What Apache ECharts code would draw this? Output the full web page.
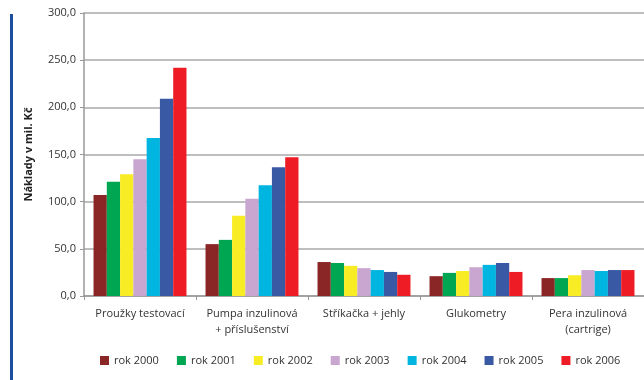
<!DOCTYPE html>
<html>
<head>
<meta charset="utf-8">
<script src="https://cdn.jsdelivr.net/npm/echarts@6/dist/echarts.min.js"></script>
<style>
  html, body { margin: 0; padding: 0; background: #fff; }
  #chart { width: 644px; height: 380px; }
</style>
</head>
<body>
<div id="chart"></div>
<script>
// Categories of diabetes supplies
const categories = [
  'Proužky testovací',
  'Pumpa inzulinová\n+ příslušenství',
  'Stříkačka + jehly',
  'Glukometry',
  'Pera inzulinová\n(cartrige)'
];

const years = ['rok 2000', 'rok 2001', 'rok 2002', 'rok 2003', 'rok 2004', 'rok 2005', 'rok 2006'];

// Costs in millions CZK, one array per year (order follows categories)
const rok2000 = [107, 55, 36, 21, 19];
const rok2001 = [121, 59.5, 35, 24.5, 19];
const rok2002 = [129, 85, 32, 26.5, 22];
const rok2003 = [145, 103, 29.5, 30.5, 27.5];
const rok2004 = [167.5, 117.5, 27.5, 33, 26.5];
const rok2005 = [209, 136.5, 25.5, 35, 27.5];
const rok2006 = [242, 147, 22.5, 25.5, 27.5];

const yearValues = [rok2000, rok2001, rok2002, rok2003, rok2004, rok2005, rok2006];
const yearColors = ['#8B2626', '#00A651', '#F8EC24', '#C9A6CF', '#00B5DF', '#3A59A5', '#EE1D25'];

const yTicks = [0, 50, 100, 150, 200, 250, 300];

const font = '"Open Sans", "Noto Sans", sans-serif';

const chart = echarts.init(document.getElementById('chart'), null, { renderer: 'canvas' });

chart.setOption({
  animation: false,
  textStyle: { fontFamily: font },
  grid: { left: 84, right: 0, top: 13, bottom: 84, containLabel: false },
  graphic: [{
    type: 'rect',
    shape: { x: 10, y: 14, width: 3, height: 366 },
    style: { fill: '#1C4FA1' },
    silent: true
  }],
  legend: {
    data: years,
    left: 100,
    top: 355,
    padding: 0,
    itemWidth: 9,
    itemHeight: 9,
    itemGap: 18,
    icon: 'rect',
    textStyle: { fontFamily: font, fontSize: 11, color: '#333' }
  },
  xAxis: {
    type: 'category',
    data: categories,
    axisLine: { show: true, lineStyle: { color: '#999', width: 1.5 } },
    axisTick: { show: true, length: 4, alignWithLabel: false, lineStyle: { color: '#999' } },
    axisLabel: { color: '#333', fontSize: 11, fontFamily: font, margin: 10, lineHeight: 16, interval: 0 }
  },
  yAxis: {
    type: 'value',
    min: yTicks[0],
    max: yTicks[yTicks.length - 1],
    interval: 50,
    name: 'Náklady v mil. Kč',
    nameLocation: 'middle',
    nameGap: 50,
    nameRotate: 90,
    nameTextStyle: { fontFamily: font, fontSize: 11, fontWeight: 'bold', color: '#222' },
    axisLine: { show: true, lineStyle: { color: '#999', width: 1.5 } },
    axisTick: { show: true, length: 4, lineStyle: { color: '#999' } },
    splitLine: { show: true, lineStyle: { color: '#A8A8A8', width: 1.5 } },
    axisLabel: {
      color: '#333', fontSize: 11, fontFamily: font, margin: 8,
      formatter: v => v.toFixed(1).replace('.', ',')
    }
  },
  series: years.map((name, i) => ({
    name: name,
    type: 'bar',
    data: yearValues[i],
    barGap: '0%',
    barCategoryGap: '17%',
    itemStyle: { color: yearColors[i] }
  }))
});
</script>
</body>
</html>
